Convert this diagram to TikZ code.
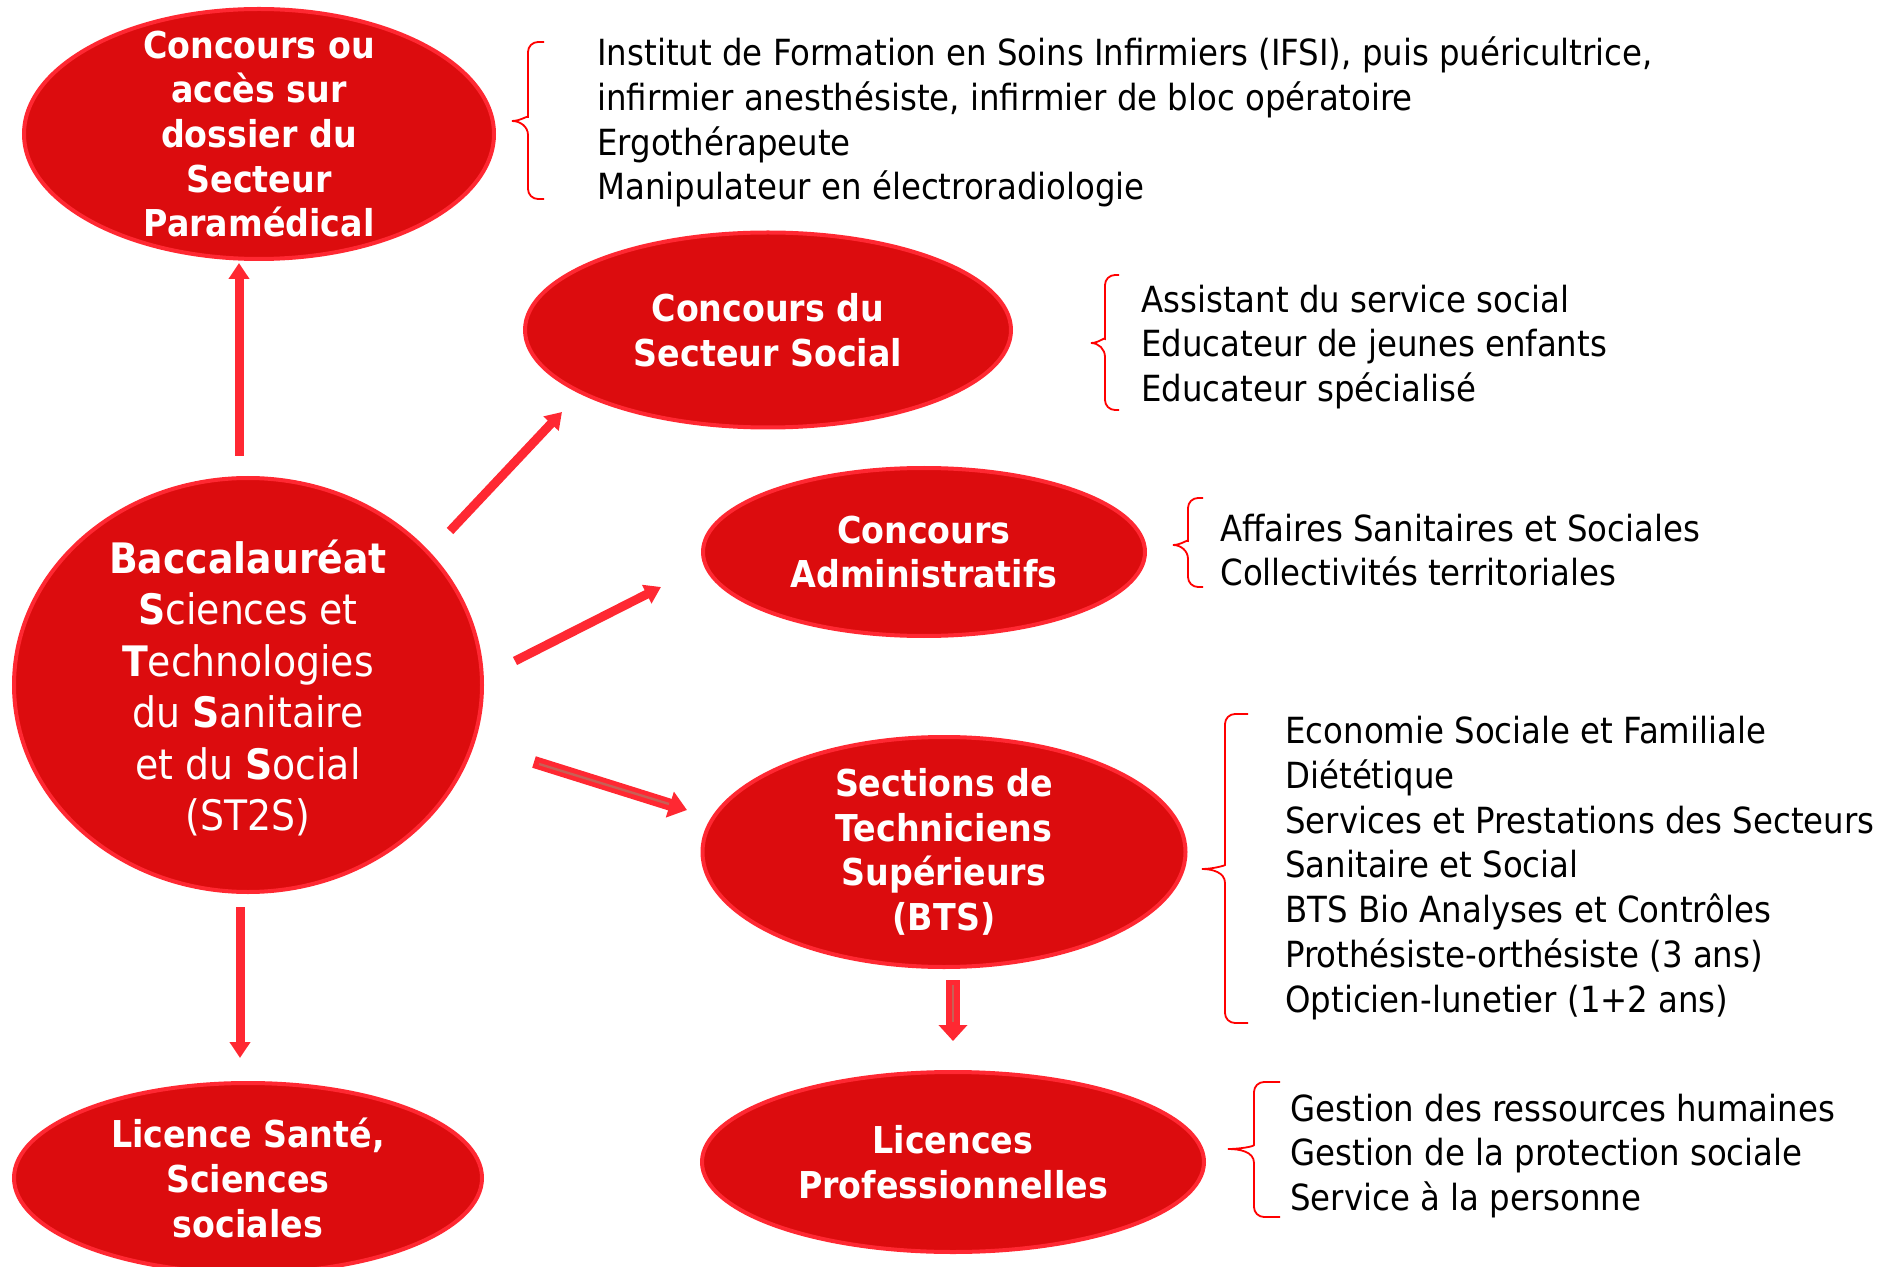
\documentclass[tikz,border=0pt]{standalone}
\usepackage{fontspec}
\setmainfont{DejaVu Sans Condensed}
\usepackage{tikz}
\usetikzlibrary{arrows.meta, positioning, shapes.geometric, calc}
\definecolor{rougefond}{RGB}{220,12,14}
\definecolor{rougebord}{RGB}{255,40,50}
\definecolor{rougeaccolade}{RGB}{255,0,0}
\definecolor{filetgris}{RGB}{200,95,85}

% accolade : x du trait, haut, pointe, bas, longueur des bras
\newcommand{\accolade}[5]{%
  \draw[accolade] (#1+#5,#2) [rounded corners=5pt] -- (#1,#2) -- (#1,#3-14) [sharp corners]
    to[out=-90,in=0] (#1-#5,#3) to[out=0,in=90] (#1,#3+14) [rounded corners=5pt] -- (#1,#4) -- (#1+#5,#4);}

\begin{document}
\begin{tikzpicture}[
        x=0.5pt, y=-0.5pt,
        bulle/.style={ellipse, draw=rougebord, line width=2pt, fill=rougefond, inner sep=0pt},
        bulletexte/.style={text=white, font=\bfseries\fontsize{18.5}{22.3}\selectfont, align=center},
        liste/.style={anchor=west, align=left, inner sep=0pt, font=\fontsize{18}{22.4}\selectfont},
        fleche/.style={draw=rougebord, line width=4.5pt, -{Triangle[width=10pt,length=8pt]}},
        grossefleche/.style={draw=rougebord, line width=7pt, -{Triangle[width=14pt,length=8pt]}},
        filet/.style={draw=filetgris, line width=1.2pt},
        accolade/.style={draw=rougeaccolade, line width=0.9pt}
    ]
    \useasboundingbox (0,0) rectangle (1891,1267);

    % bulles
    \node[bulle, minimum width=235pt, minimum height=125pt] (para) at (259,134) {};
    \node[bulletexte] at (para) {Concours ou\\accès sur\\dossier du\\Secteur\\Paramédical};

    \node[bulle, minimum width=243pt, minimum height=97.5pt] (social) at (768,330) {};
    \node[bulletexte] at (social) {Concours du\\Secteur Social};

    \node[bulle, minimum width=221pt, minimum height=84pt] (admin) at (924,552) {};
    \node[bulletexte] at (admin) {Concours\\Administratifs};

    \node[bulle, minimum width=234pt, minimum height=207pt] (bac) at (248,685) {};
    \node[text=white, align=center, font=\fontsize{21}{25.7}\selectfont] at ($(bac)+(0,3)$)
        {\textbf{Baccalauréat}\\\textbf{S}ciences et\\\textbf{T}echnologies\\du \textbf{S}anitaire\\et du \textbf{S}ocial\\(ST2S)};

    \node[bulle, minimum width=241.5pt, minimum height=115pt] (bts) at (944,852) {};
    \node[bulletexte] at (bts) {Sections de\\Techniciens\\Supérieurs\\(BTS)};

    \node[bulle, minimum width=251pt, minimum height=90pt] (licpro) at (953,1162) {};
    \node[bulletexte] at (licpro) {Licences\\Professionnelles};

    \node[bulle, minimum width=234pt, minimum height=95pt] (sante) at (248,1178) {};
    \node[bulletexte] at (sante) {Licence Santé,\\Sciences\\sociales};

    % fleches
    \draw[fleche] ($(bac)+(-9,-229)$) -- ($(para)+(-20,129)$);
    \draw[fleche] ($(bac)+(202,-154)$) -- ($(social)+(-206,82)$);
    \draw[fleche] ($(bac)+(267,-24)$) -- ($(admin)+(-263,35)$);
    \draw[fleche, line width=6pt, -{Triangle[width=13pt,length=9pt]}] ($(bac)+(286,77)$) -- ($(bts)+(-257,-42)$);
    \draw[filet] ($(bac)+(291,79)$) -- ($(bts)+(-275,-48)$);
    \draw[fleche] ($(bac)+(-8,222)$) -- ($(sante)+(-8,-120)$);
    \draw[grossefleche] ($(bts)+(9,128)$) -- ($(licpro)+(0,-121)$);
    \draw[filet] ($(bts)+(9,133)$) -- ($(bts)+(9,170)$);

    % accolades
    \accolade{528}{42}{121}{199}{16}
    \accolade{1105}{275}{343}{410}{14}
    \accolade{1188}{498}{545}{587}{15}
    \accolade{1225}{714}{869}{1023}{23}
    \accolade{1254}{1082}{1149}{1217}{26}

    % listes
    \node[liste] (l1) at (597,122) {Institut de Formation en Soins Infirmiers (IFSI), puis puéricultrice,\\infirmier anesthésiste, infirmier de bloc opératoire\\Ergothérapeute\\Manipulateur en électroradiologie};
    \node[liste] (l2) at (1141,347) {Assistant du service social\\Educateur de jeunes enfants\\Educateur spécialisé};
    \node[liste] (l3) at (1220,550) {Affaires Sanitaires et Sociales\\Collectivités territoriales};
    \node[liste] (l4) at (1285,868) {Economie Sociale et Familiale\\Diététique\\Services et Prestations des Secteurs\\Sanitaire et Social\\BTS Bio Analyses et Contrôles\\Prothésiste-orthésiste (3 ans)\\Opticien-lunetier (1+2 ans)};
    \node[liste] (l5) at (1290,1156) {Gestion des ressources humaines\\Gestion de la protection sociale\\Service à la personne};

\end{tikzpicture}
\end{document}
